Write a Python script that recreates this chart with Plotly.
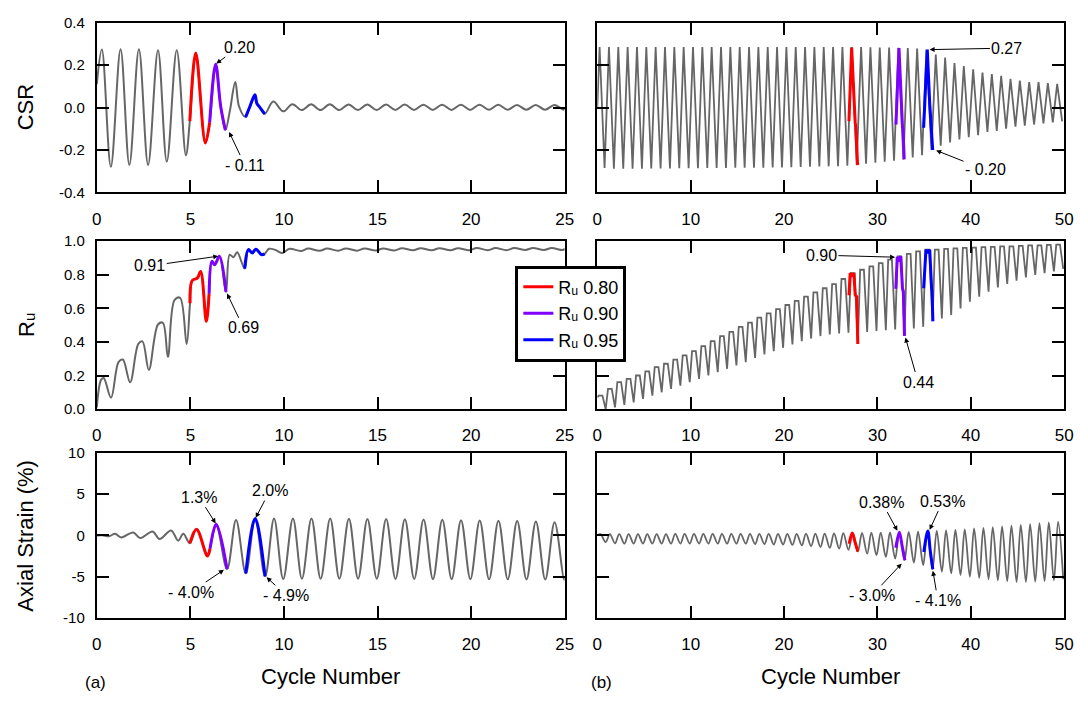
import plotly.graph_objects as go
from plotly.subplots import make_subplots

FONT = "Arial, Liberation Sans, Helvetica, sans-serif"
GRAY = "#666666"
RED = "#ff0000"
PURPLE = "#8000ff"
BLUE = "#0000ff"
RU = "R\u1d64"

# ---------------- Panel (a): 25 cycles ----------------
csr_a_t = [0.0, 0.27, 0.75, 1.27, 1.74, 2.25, 2.74, 3.27, 3.74, 4.27, 4.76, 4.97, 5.29, 5.80,
           6.03, 6.35, 6.62, 6.87, 7.10, 7.40, 7.60, 7.95, 8.18, 8.45, 8.55, 8.72, 8.97, 9.43,
           9.96, 10.45, 10.95, 11.45, 11.95, 12.45, 12.95, 13.45, 13.95, 14.45, 14.95, 15.45,
           15.95, 16.45, 16.95, 17.45, 17.95, 18.45, 18.95, 19.45, 19.95, 20.45, 20.95, 21.45,
           21.95, 22.45, 22.95, 23.45, 23.95, 24.45, 24.95, 25.0]
csr_a_v = [0.11, 0.273, -0.279, 0.275, -0.27, 0.275, -0.27, 0.27, -0.255, 0.27, -0.225, -0.064,
           0.257, -0.167, -0.07, 0.204, 0.005, -0.106, -0.02, 0.12, 0.005, -0.045, 0.005, 0.06,
           0.02, 0.0, -0.03, 0.028, -0.018, 0.016, -0.012, 0.015, -0.012, 0.015, -0.012, 0.014,
           -0.012, 0.014, -0.012, 0.014, -0.011, 0.014, -0.011, 0.013, -0.011, 0.013, -0.011,
           0.013, -0.011, 0.013, -0.01, 0.013, -0.01, 0.012, -0.01, 0.012, -0.01, 0.012, -0.01, 0.0]

ru_a_t = [0.0, 0.23, 0.37, 0.76, 1.16, 1.39, 1.78, 2.22, 2.44, 2.78, 3.27, 3.53, 3.80, 4.15,
          4.45, 4.80, 4.98, 5.10, 5.37, 5.55, 5.85, 6.00, 6.15, 6.30, 6.55, 6.90, 7.10, 7.30,
          7.50, 7.90, 8.10, 8.30, 8.50, 8.80, 8.97, 9.20, 9.50, 9.90, 10.3, 10.9, 11.3, 11.9,
          12.3, 12.9, 13.3, 13.9, 14.3, 14.9, 15.3, 15.9, 16.3, 16.9, 17.3, 17.9, 18.3, 18.9,
          19.3, 19.9, 20.3, 20.9, 21.3, 21.9, 22.3, 22.9, 23.3, 23.9, 24.3, 24.9, 25.0]
ru_a_v = [0.01, 0.174, 0.185, 0.068, 0.28, 0.295, 0.16, 0.388, 0.403, 0.233, 0.504, 0.514,
          0.31, 0.649, 0.663, 0.388, 0.63, 0.766, 0.78, 0.82, 0.523, 0.688, 0.88, 0.86, 0.91,
          0.698, 0.92, 0.905, 0.934, 0.837, 0.95, 0.93, 0.953, 0.92, 0.925, 0.955, 0.95, 0.93,
          0.955, 0.942, 0.956, 0.943, 0.956, 0.944, 0.957, 0.944, 0.957, 0.945, 0.957, 0.945,
          0.958, 0.946, 0.958, 0.946, 0.958, 0.946, 0.958, 0.947, 0.959, 0.947, 0.959, 0.947,
          0.959, 0.948, 0.959, 0.948, 0.959, 0.948, 0.955]

ea_a_t = [0.0, 0.30, 0.65, 0.98, 1.30, 1.95, 2.32, 2.98, 3.35, 3.97, 4.35, 4.62, 4.97, 5.33,
          5.91, 6.05, 6.38, 6.96, 7.44, 7.96, 8.46, 8.99, 9.47, 9.96, 10.48, 10.96, 11.47,
          11.96, 12.47, 12.96, 13.47, 13.96, 14.46, 14.96, 15.46, 15.96, 16.46, 16.96, 17.46,
          17.96, 18.46, 18.96, 19.46, 19.96, 20.46, 20.96, 21.46, 21.96, 22.46, 22.96, 23.46,
          23.96, 24.46, 24.96, 25.0]
ea_a_v = [0.0, 0.02, -0.1, 0.2, -0.24, 0.36, -0.32, 0.48, -0.44, 0.6, -0.63, 0.2, -0.95, 0.75,
          -2.5, -1.6, 1.35, -4.08, 1.87, -4.6, 2.06, -4.96, 2.06, -5.28, 2.05, -5.25, 2.05,
          -5.25, 2.04, -5.25, 2.03, -5.25, 2.0, -5.25, 1.98, -5.28, 1.95, -5.28, 1.92, -5.3,
          1.9, -5.3, 1.85, -5.3, 1.82, -5.32, 1.78, -5.32, 1.74, -5.34, 1.7, -5.35, 1.6,
          -5.35, -5.2]

# colored windows (cycle ranges) for panel (a)
win_a = {
    "csr": {"red": (4.97, 6.03), "purple": (6.03, 6.87), "blue": (7.95, 8.97)},
    "ru": {"red": (4.98, 6.00), "purple": (6.00, 6.90), "blue": (7.90, 8.97)},
    "ea": {"red": (4.97, 6.05), "purple": (6.05, 6.96), "blue": (7.96, 8.99)},
}

# ---------------- Panel (b): 50 cycles ----------------
cycles_b = list(range(50))
csr_b_peak = [0.285, 0.285, 0.285, 0.285, 0.285, 0.285, 0.285, 0.285, 0.285, 0.285,
              0.285, 0.285, 0.285, 0.285, 0.285, 0.285, 0.285, 0.285, 0.285, 0.285,
              0.285, 0.285, 0.285, 0.285, 0.285, 0.285, 0.285, 0.285, 0.285, 0.284,
              0.283, 0.283, 0.282, 0.28, 0.278, 0.272, 0.25, 0.236, 0.21, 0.196,
              0.18, 0.165, 0.158, 0.15, 0.135, 0.127, 0.12, 0.12, 0.115, 0.112]
csr_b_trough = [-0.285, -0.288, -0.288, -0.288, -0.288, -0.287, -0.287, -0.287, -0.286, -0.286,
                -0.286, -0.285, -0.285, -0.285, -0.284, -0.284, -0.283, -0.283, -0.282, -0.282,
                -0.281, -0.28, -0.279, -0.278, -0.277, -0.276, -0.274, -0.27, -0.265, -0.26,
                -0.255, -0.25, -0.244, -0.235, -0.225, -0.2, -0.18, -0.165, -0.15, -0.14,
                -0.13, -0.115, -0.11, -0.1, -0.09, -0.085, -0.08, -0.075, -0.07, -0.065]
ru_b_top = [0.08, 0.12, 0.16, 0.18, 0.2, 0.225, 0.25, 0.27, 0.295, 0.32,
            0.345, 0.375, 0.405, 0.435, 0.46, 0.49, 0.515, 0.545, 0.57, 0.595,
            0.62, 0.645, 0.67, 0.695, 0.72, 0.745, 0.775, 0.81, 0.83, 0.85,
            0.87, 0.89, 0.91, 0.925, 0.94, 0.95, 0.95, 0.955, 0.958, 0.96,
            0.962, 0.965, 0.967, 0.97, 0.97, 0.972, 0.975, 0.975, 0.978, 0.98]
ru_b_trough = [0.0, 0.01, 0.025, 0.04, 0.06, 0.08, 0.1, 0.12, 0.14, 0.16,
               0.18, 0.2, 0.22, 0.24, 0.26, 0.28, 0.305, 0.325, 0.345, 0.365,
               0.385, 0.405, 0.42, 0.435, 0.445, 0.45, 0.455, 0.39, 0.46, 0.465,
               0.47, 0.475, 0.436, 0.48, 0.49, 0.523, 0.54, 0.56, 0.6, 0.64,
               0.67, 0.7, 0.725, 0.745, 0.765, 0.785, 0.8, 0.81, 0.82, 0.835]
ea_b_peak = [0.15, 0.16, 0.16, 0.16, 0.17, 0.17, 0.17, 0.17, 0.18, 0.18,
             0.18, 0.18, 0.18, 0.19, 0.19, 0.19, 0.19, 0.2, 0.2, 0.2,
             0.2, 0.2, 0.21, 0.22, 0.23, 0.25, 0.27, 0.3, 0.31, 0.33,
             0.34, 0.36, 0.38, 0.42, 0.47, 0.53, 0.56, 0.6, 0.66, 0.74,
             0.84, 0.9, 1.0, 1.1, 1.18, 1.28, 1.38, 1.48, 1.58, 1.68]
ea_b_trough = [-0.8, -0.95, -1.0, -1.0, -1.0, -1.0, -1.0, -1.0, -1.0, -1.0,
               -1.0, -1.0, -1.0, -1.0, -1.0, -1.0, -1.05, -1.05, -1.1, -1.1,
               -1.15, -1.2, -1.3, -1.4, -1.5, -1.6, -1.75, -1.95, -2.2, -2.4,
               -2.6, -2.8, -3.0, -3.3, -3.6, -4.1, -4.4, -4.6, -4.8, -5.0,
               -5.15, -5.3, -5.45, -5.55, -5.65, -5.65, -5.6, -5.55, -5.45, -5.3]

# colored segments for panel (b) (cycle, value)
csr_b_seg = {
    "red": ([26.95, 27.24, 27.62, 27.68, 27.88], [-0.064, 0.283, -0.07, -0.09, -0.271]),
    "purple": ([31.99, 32.31, 32.68, 32.74, 32.87], [-0.08, 0.28, -0.087, -0.1, -0.244]),
    "blue": ([34.95, 35.34, 35.6, 35.8, 35.92], [-0.095, 0.273, 0.02, -0.1, -0.2]),
}
ru_b_seg = {
    "red": ([26.95, 27.08, 27.3, 27.48, 27.62, 27.78, 27.9], [0.678, 0.81, 0.79, 0.81, 0.68, 0.67, 0.388]),
    "purple": ([31.97, 32.12, 32.3, 32.5, 32.68, 32.78, 32.9], [0.717, 0.905, 0.89, 0.91, 0.72, 0.7, 0.436]),
    "blue": ([34.95, 35.2, 35.4, 35.6, 35.8, 35.85, 35.94], [0.72, 0.95, 0.93, 0.95, 0.72, 0.7, 0.523]),
}
ea_b_seg = {
    "red": ([26.97, 27.3, 27.6, 27.9], [-1.0, 0.3, -0.8, -1.95]),
    "purple": ([31.97, 32.35, 32.65, 32.94], [-1.5, 0.38, -1.3, -3.0]),
    "blue": ([34.97, 35.4, 35.65, 35.93], [-2.0, 0.53, -1.8, -4.1]),
}

legend_names = {"red": RU + " 0.80", "purple": RU + " 0.90", "blue": RU + " 0.95"}
colors = {"red": RED, "purple": PURPLE, "blue": BLUE}


def zig(start, offsets, *lists):
    t, v = [0.0], [start]
    for n in cycles_b:
        for off, lst in zip(offsets, lists):
            t.append(n + off)
            v.append(lst[n])
    return t, v


def window(t, v, lo, hi):
    pts = [(a, b) for a, b in zip(t, v) if lo - 1e-9 <= a <= hi + 1e-9]
    return [p[0] for p in pts], [p[1] for p in pts]


fig = make_subplots(rows=3, cols=2)
shown = set()


def add_colored(name, t, v, row, col, shape):
    fig.add_trace(go.Scatter(x=t, y=v, mode="lines", line=dict(color=colors[name], width=3, shape=shape),
                             name=legend_names[name], legendgroup=name,
                             showlegend=name not in shown), row=row, col=col)
    shown.add(name)


# panel (a)
for key, (t, v), row in [("csr", (csr_a_t, csr_a_v), 1), ("ru", (ru_a_t, ru_a_v), 2), ("ea", (ea_a_t, ea_a_v), 3)]:
    fig.add_trace(go.Scatter(x=t, y=v, mode="lines", line=dict(color=GRAY, width=2, shape="spline", smoothing=1.0),
                             showlegend=False), row=row, col=1)
    for name in ["red", "purple", "blue"]:
        lo, hi = win_a[key][name]
        wt, wv = window(t, v, lo, hi)
        add_colored(name, wt, wv, row, 1, "spline")

# panel (b)
csr_bt, csr_bv = zig(0.0, [0.25, 0.78], csr_b_peak, csr_b_trough)
ru_bt, ru_bv = zig(0.07, [0.15, 0.55, 0.9], ru_b_top, ru_b_top, ru_b_trough)
ea_bt, ea_bv = zig(0.0, [0.35, 0.9], ea_b_peak, ea_b_trough)
fig.add_trace(go.Scatter(x=csr_bt, y=csr_bv, mode="lines", line=dict(color=GRAY, width=1.8), showlegend=False), row=1, col=2)
fig.add_trace(go.Scatter(x=ru_bt, y=ru_bv, mode="lines", line=dict(color=GRAY, width=1.8), showlegend=False), row=2, col=2)
fig.add_trace(go.Scatter(x=ea_bt, y=ea_bv, mode="lines", line=dict(color=GRAY, width=1.8, shape="spline"), showlegend=False), row=3, col=2)
for name in ["red", "purple", "blue"]:
    add_colored(name, *csr_b_seg[name], 1, 2, "linear")
    add_colored(name, *ru_b_seg[name], 2, 2, "linear")
    add_colored(name, *ea_b_seg[name], 3, 2, "spline")

W, H = 1088, 702
xa = [93 / W, 567 / W]
xb = [600 / W, 1073 / W]
rows_y = [[1 - 188 / H, 1 - 14 / H], [1 - 410 / H, 1 - 238 / H], [1 - 624 / H, 1 - 455 / H]]

axis_common = dict(showline=True, linecolor="black", linewidth=2, mirror="ticks", ticks="inside",
                   ticklen=12, tickwidth=2, tickcolor="black", showgrid=False, zeroline=False)

y_specs = [
    ([-0.4, 0.4], [-0.4, -0.2, 0.0, 0.2, 0.4], ["-0.4", "-0.2", "0.0", "0.2", "0.4"]),
    ([0.0, 1.0], [0.0, 0.2, 0.4, 0.6, 0.8, 1.0], ["0.0", "0.2", "0.4", "0.6", "0.8", "1.0"]),
    ([-10, 10], [-10, -5, 0, 5, 10], ["-10", "-5", "0", "5", "10"]),
]

for r in range(3):
    for c in range(2):
        idx = r * 2 + c + 1
        sfx = "" if idx == 1 else str(idx)
        if c == 0:
            xr, xt = [0, 25], [0, 5, 10, 15, 20, 25]
            dom = xa
        else:
            xr, xt = [0, 50], [0, 10, 20, 30, 40, 50]
            dom = xb
        fig.layout["xaxis" + sfx].update(domain=dom, range=xr, tickvals=xt, ticktext=[str(v) for v in xt],
                                         tickfont=dict(family=FONT, size=17, color="black"),
                                         ticklabelstandoff=10, **axis_common)
        yr, yt, ytt = y_specs[r]
        fig.layout["yaxis" + sfx].update(domain=rows_y[r], range=yr, tickvals=yt, ticktext=ytt,
                                         showticklabels=(c == 0),
                                         tickfont=dict(family=FONT, size=15, color="black"),
                                         ticklabelstandoff=7, **axis_common)

# callouts: (axis suffix, tip x, tip y, text, text x, text y)
callouts = [
    ("", 6.38, 0.207, "0.20", 7.6, 0.285),
    ("", 7.07, -0.115, "- 0.11", 7.91, -0.271),
    ("3", 6.49, 0.911, "0.91", 2.83, 0.853),
    ("3", 6.96, 0.688, "0.69", 7.84, 0.484),
    ("5", 6.35, 1.46, "1.3%", 5.47, 4.64),
    ("5", 8.49, 2.14, "2.0%", 9.25, 5.44),
    ("5", 6.79, -4.17, "- 4.0%", 5.03, -6.87),
    ("5", 9.07, -5.08, "- 4.9%", 10.13, -7.26),
    ("2", 35.59, 0.273, "0.27", 43.87, 0.28),
    ("2", 36.29, -0.202, "- 0.20", 41.58, -0.294),
    ("4", 31.89, 0.905, "0.90", 24.0, 0.917),
    ("4", 33.0, 0.426, "0.44", 34.35, 0.161),
    ("6", 32.14, 0.56, "0.38%", 30.47, 4.05),
    ("6", 35.59, 0.68, "0.53%", 37.0, 4.17),
    ("6", 32.59, -3.42, "- 3.0%", 29.42, -7.26),
    ("6", 35.94, -4.29, "- 4.1%", 36.47, -7.86),
]
annotations = []
for s, tx, ty, txt, lx, ly in callouts:
    annotations.append(dict(x=tx, y=ty, xref="x" + s, yref="y" + s, ax=lx, ay=ly, axref="x" + s,
                            ayref="y" + s, text=txt, showarrow=True, arrowhead=2, arrowsize=1,
                            arrowwidth=1, arrowcolor="black", standoff=0,
                            font=dict(family=FONT, size=16, color="black")))


def ptext(px, py, txt, size, angle=0):
    return dict(x=px / W, y=1 - py / H, xref="paper", yref="paper", text=txt, showarrow=False,
                textangle=angle, font=dict(family=FONT, size=size, color="black"),
                xanchor="center", yanchor="middle")


annotations += [
    ptext(21, 101, "CSR", 22, -90),
    ptext(21, 324, RU, 22, -90),
    ptext(21, 540, "Axial Strain (%)", 22, -90),
    ptext(330, 684, "Cycle Number", 22),
    ptext(836, 684, "Cycle Number", 22),
    ptext(92, 690, "(a)", 17),
    ptext(604, 690, "(b)", 17),
]

fig.update_layout(
    width=W, height=H, margin=dict(l=0, r=0, t=0, b=0),
    paper_bgcolor="white", plot_bgcolor="white",
    font=dict(family=FONT, color="black"),
    annotations=annotations,
    legend=dict(x=517 / W, y=1 - 263 / H, xanchor="left", yanchor="top",
                bgcolor="white", bordercolor="black", borderwidth=3,
                font=dict(family=FONT, size=18, color="black"), tracegroupgap=0),
)

fig.write_html("out.html")
